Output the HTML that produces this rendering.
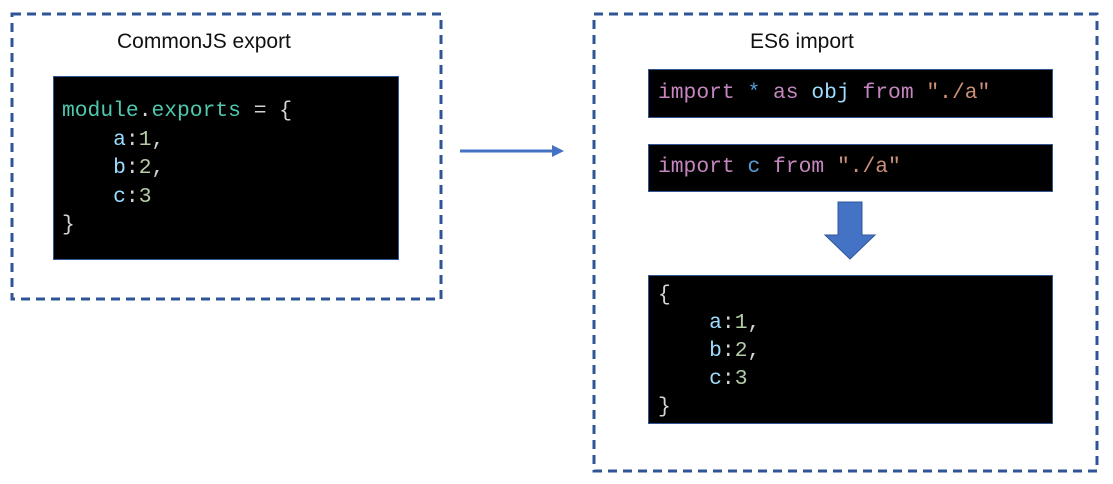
<!DOCTYPE html>
<html><head><meta charset="utf-8"><style>
body{margin:0;width:1113px;height:484px;background:#fff;position:relative;overflow:hidden;font-family:"Liberation Sans",sans-serif}
.box{position:absolute;background:#000;border:1px solid #2f5597;box-sizing:border-box}
.code{position:absolute;font-family:"Liberation Mono",monospace;font-size:21.3px;line-height:28.5px;white-space:pre;color:#d4d4d4}
.t{position:absolute;font-size:21px;color:#111}
.g{color:#4ec9b0}.v{color:#9cdcfe}.n{color:#b5cea8}.k{color:#c586c0}.b{color:#569cd6}.s{color:#ce9178}
</style></head><body>
<svg width="1113" height="484" style="position:absolute;left:0;top:0">
<rect x="12" y="14" width="429" height="285" fill="none" stroke="#2f5597" stroke-width="3" stroke-dasharray="9 6"/>
<rect x="594" y="14" width="503" height="457" fill="none" stroke="#2f5597" stroke-width="3" stroke-dasharray="9 6"/>
<line x1="460" y1="151" x2="552" y2="151" stroke="#4472c4" stroke-width="3"/>
<polygon points="552,145 564,151 552,157" fill="#4472c4"/>
<polygon points="838,202 862,202 862,235 875,235 850,259 825,235 838,235" fill="#4472c4" stroke="#2f5597" stroke-width="1"/>
</svg>
<div class="t" style="left:117px;top:30px">CommonJS export</div>
<div class="t" style="left:750px;top:30px">ES6 import</div>
<div class="box" style="left:53px;top:76px;width:346px;height:184px"></div>
<div class="code" style="left:62px;top:97px"><span class="g">module</span>.<span class="g">exports</span> = {
    <span class="v">a</span>:<span class="n">1</span>,
    <span class="v">b</span>:<span class="n">2</span>,
    <span class="v">c</span>:<span class="n">3</span>
}</div>
<div class="box" style="left:648px;top:69px;width:405px;height:49px"></div>
<div class="code" style="left:658px;top:79px"><span class="k">import</span> <span class="b">*</span> <span class="k">as</span> <span class="v">obj</span> <span class="k">from</span> <span class="s">"./a"</span></div>
<div class="box" style="left:648px;top:144px;width:405px;height:48px"></div>
<div class="code" style="left:658px;top:153px"><span class="k">import</span> <span class="b">c</span> <span class="k">from</span> <span class="s">"./a"</span></div>
<div class="box" style="left:648px;top:275px;width:405px;height:149px"></div>
<div class="code" style="left:658px;top:281px;line-height:28px">{
    <span class="v">a</span>:<span class="n">1</span>,
    <span class="v">b</span>:<span class="n">2</span>,
    <span class="v">c</span>:<span class="n">3</span>
}</div>
</body></html>
